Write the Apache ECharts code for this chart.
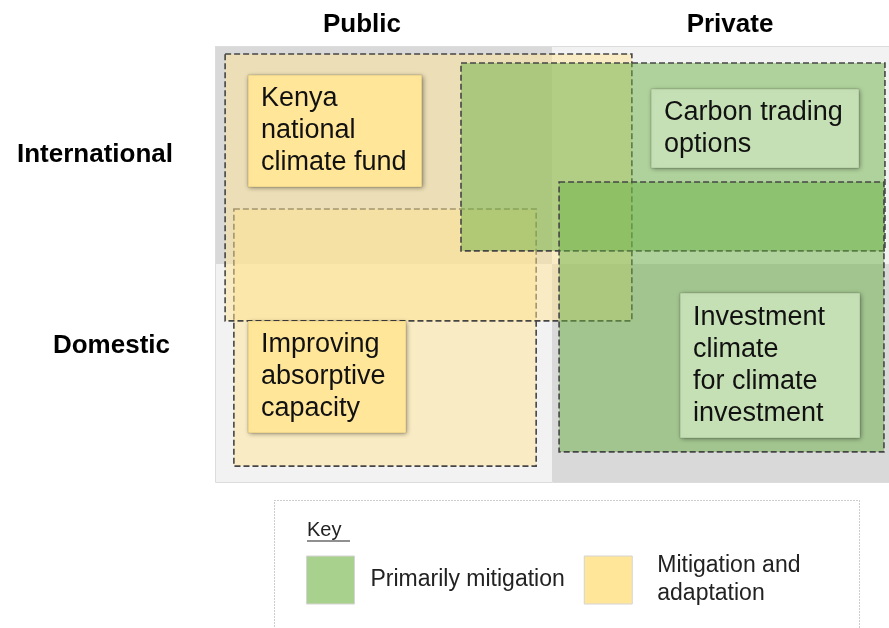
<!DOCTYPE html>
<html>
<head>
<meta charset="utf-8">
<script src="https://cdn.jsdelivr.net/npm/echarts@6/dist/echarts.min.js"></script>
<style>
  html, body { margin: 0; padding: 0; background: #fff; }
  #chart { width: 889px; height: 628px; }
</style>
</head>
<body>
<div id="chart"></div>
<script>
// ---- data (panel units: each quadrant is 1 x 1, y runs downward) ----
const colLabels = ['Public', 'Private'];
const rowLabels = ['International', 'Domestic'];

const quadCols = [0, 1, 0, 1];
const quadRows = [0, 0, 1, 1];

// dashed scope areas
const regionNames = ['Mitigation and\nadaptation', 'Mitigation and\nadaptation', 'Primarily mitigation', 'Primarily mitigation'];
const regionX0 = [0.056, 0.030, 0.730, 1.021];
const regionX1 = [0.953, 1.237, 1.988, 1.985];
const regionY0 = [0.748, 0.037, 0.078, 0.624];
const regionY1 = [1.927, 1.261, 0.940, 1.862];

// example boxes
const labelTexts = ['Kenya\nnational\nclimate fund', 'Carbon trading\noptions', 'Improving\nabsorptive\ncapacity', 'Investment\nclimate\nfor climate\ninvestment'];
const labelKinds = ['Mitigation and\nadaptation', 'Primarily mitigation', 'Mitigation and\nadaptation', 'Primarily mitigation'];
const labelX0 = [0.098, 1.294, 0.098, 1.380];
const labelX1 = [0.614, 1.911, 0.567, 1.914];
const labelY0 = [0.133, 0.197, 1.261, 1.133];
const labelY1 = [0.647, 0.560, 1.775, 1.798];

const keyNames = ['Primarily mitigation', 'Mitigation and\nadaptation'];

// ---- styles ----
const FONT = 'Arial, "Liberation Sans", sans-serif';
const keyColor = { 'Primarily mitigation': '#a9d18e', 'Mitigation and\nadaptation': '#ffe699' };
const areaFill = { 'Primarily mitigation': 'rgba(108,178,70,0.5)', 'Mitigation and\nadaptation': 'rgba(255,228,148,0.5)' };
const boxFill = { 'Primarily mitigation': '#c5e0b4', 'Mitigation and\nadaptation': '#ffe699' };

function rectFromApi(api) {
  const p0 = api.coord([api.value(0), api.value(1)]);
  const p1 = api.coord([api.value(2), api.value(3)]);
  return {
    x: Math.min(p0[0], p1[0]),
    y: Math.min(p0[1], p1[1]),
    width: Math.abs(p1[0] - p0[0]),
    height: Math.abs(p1[1] - p0[1])
  };
}

const quadData = quadCols.map((c, i) => [c, quadRows[i], c + 1, quadRows[i] + 1]);

function regionSeries(name) {
  const data = [];
  regionNames.forEach((n, i) => {
    if (n === name) data.push([regionX0[i], regionY0[i], regionX1[i], regionY1[i]]);
  });
  return {
    name: name,
    type: 'custom',
    silent: true,
    itemStyle: { color: keyColor[name] },
    encode: { x: [0, 2], y: [1, 3] },
    data: data,
    renderItem: (params, api) => ({
      type: 'rect',
      shape: rectFromApi(api),
      style: { fill: areaFill[name], stroke: '#454545', lineWidth: 1.6, lineDash: [6, 3] }
    })
  };
}

const chart = echarts.init(document.getElementById('chart'));

chart.setOption({
  animation: false,
  grid: { left: 215, right: 0, top: 46, bottom: 146 },
  xAxis: { type: 'value', min: 0, max: 2, show: false },
  yAxis: { type: 'value', min: 0, max: 2, inverse: true, show: false },
  title: {
    text: 'Key',
    left: 302,
    top: 515,
    textStyle: { fontFamily: FONT, fontSize: 20, fontWeight: 'normal', color: '#222' }
  },
  legend: {
    left: 301,
    top: 547,
    icon: 'rect',
    itemWidth: 48,
    itemHeight: 48,
    itemGap: 19,
    selectedMode: false,
    formatter: (name) => name === keyNames[1]
      ? name.split('\n').map((s) => '{m|' + s + '}').join('\n')
      : name,
    textStyle: {
      fontFamily: FONT, fontSize: 23, color: '#222', lineHeight: 28, padding: [0, 0, 0, 11],
      rich: { m: { fontFamily: FONT, fontSize: 23, color: '#222', lineHeight: 28, padding: [0, 0, 0, 9] } }
    },
    data: keyNames.map((n) => ({
      name: n,
      itemStyle: { color: keyColor[n], borderColor: '#d4d4d4', borderWidth: 1 }
    }))
  },
  graphic: [
    // key frame
    { type: 'rect', shape: { x: 274.5, y: 500.5, width: 585, height: 150 },
      style: { fill: 'none', stroke: '#9a9a9a', lineWidth: 1, lineDash: [1, 2] }, z: -1 },
    { type: 'line', shape: { x1: 307, y1: 541, x2: 350, y2: 541 }, style: { stroke: '#222', lineWidth: 1.2 } },
    // column headers
    { type: 'text', x: 362, y: 25, style: { text: colLabels[0], font: 'bold 26px ' + FONT, fill: '#000', textAlign: 'center', textVerticalAlign: 'middle' } },
    { type: 'text', x: 730, y: 25, style: { text: colLabels[1], font: 'bold 26px ' + FONT, fill: '#000', textAlign: 'center', textVerticalAlign: 'middle' } },
    // row headers
    { type: 'text', x: 173, y: 155, style: { text: rowLabels[0], font: 'bold 26px ' + FONT, fill: '#000', textAlign: 'right', textVerticalAlign: 'middle' } },
    { type: 'text', x: 170, y: 346, style: { text: rowLabels[1], font: 'bold 26px ' + FONT, fill: '#000', textAlign: 'right', textVerticalAlign: 'middle' } },
    // panel outline
    { type: 'rect', shape: { x: 215.5, y: 46.5, width: 674, height: 436 },
      style: { fill: 'none', stroke: '#dcdcdc', lineWidth: 1 }, z: 10, silent: true }
  ],
  series: [
    {
      name: 'quadrants',
      type: 'custom',
      silent: true,
      encode: { x: [0, 2], y: [1, 3] },
      data: quadData,
      renderItem: (params, api) => ({
        type: 'rect',
        shape: rectFromApi(api),
        style: {
          fill: (quadCols[params.dataIndex] + quadRows[params.dataIndex]) % 2 === 0 ? '#d9d9d9' : '#f2f2f2'
        }
      })
    },
    regionSeries('Mitigation and\nadaptation'),
    regionSeries('Primarily mitigation'),
    {
      name: 'examples',
      type: 'custom',
      silent: true,
      encode: { x: [0, 2], y: [1, 3] },
      data: labelTexts.map((t, i) => [labelX0[i], labelY0[i], labelX1[i], labelY1[i]]),
      renderItem: (params, api) => {
        const r = rectFromApi(api);
        const kind = labelKinds[params.dataIndex];
        return {
          type: 'group',
          children: [
            {
              type: 'rect',
              shape: r,
              style: {
                fill: boxFill[kind],
                stroke: 'rgba(0,0,0,0.12)',
                lineWidth: 1,
                shadowBlur: 5,
                shadowOffsetX: 1,
                shadowOffsetY: 1,
                shadowColor: 'rgba(0,0,0,0.45)'
              }
            },
            {
              type: 'text',
              x: r.x + 13,
              y: r.y + r.height / 2,
              style: {
                text: labelTexts[params.dataIndex],
                font: '27px ' + FONT,
                fill: '#111',
                lineHeight: 32,
                textAlign: 'left',
                textVerticalAlign: 'middle'
              }
            }
          ]
        };
      }
    }
  ]
});
</script>
</body>
</html>
